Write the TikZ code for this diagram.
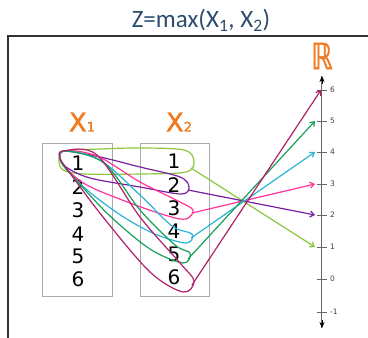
\documentclass[tikz,border=0pt]{standalone}
\usepackage{fontspec}
\usetikzlibrary{arrows.meta}
\newfontfamily\digitfont{DejaVu Sans}
\newfontfamily\lblfont{DejaVu Sans}[FakeBold=1.5]
\newfontfamily\titlefont{Carlito}
\definecolor{titleblue}{HTML}{2B4C6F}
\definecolor{lblorange}{HTML}{F07A22}
\definecolor{cLime}{HTML}{8CC63F}
\definecolor{cPurple}{HTML}{7A1FA2}
\definecolor{cPink}{HTML}{FF3399}
\definecolor{cCyan}{HTML}{29B4D8}
\definecolor{cGreen}{HTML}{16A05A}
\definecolor{cMag}{HTML}{B0206A}
\begin{document}
\begin{tikzpicture}[x=1pt,y=-1pt,
  setbox/.style={draw=black!33,line width=1pt},
  digit/.style={font=\digitfont\fontsize{20}{20}\selectfont,inner sep=0pt},
  loopline/.style={line width=1.2pt,smooth cycle,tension=0.55},
  mapline/.style={line width=1.2pt,-{Straight Barb[length=4pt,width=6pt]}},
  ticklbl/.style={font=\digitfont\fontsize{7.5}{8}\selectfont,text=black!75,anchor=west,inner sep=0pt},
  xlabel/.style={font=\lblfont\fontsize{26}{26}\selectfont,text=lblorange,inner sep=0pt}]
\useasboundingbox (0,0) rectangle (368,338);
% title
\node[font=\titlefont\fontsize{25}{25}\selectfont,text=titleblue] (title) at (201,20) {Z=max(X\textsubscript{1}, X\textsubscript{2})};
% frame
\draw[line width=1.5pt,black!80] (8,340) -- (8,36) -- (370,36);
% boxes
\draw[setbox] (43,143) rectangle (113,296);
\draw[setbox] (141,143) rectangle (210,296);
\node[xlabel] (lx1) at (82,122) {X{\fontsize{13}{13}\selectfont 1}};
\node[xlabel] (lx2) at (179,122) {X{\fontsize{13}{13}\selectfont 2}};
% digits
\foreach \i/\y in {1/163,2/187,3/210,4/234,5/256,6/279}
  \node[digit] (a\i) at (78,\y) {\i};
\foreach \i/\y in {1/161,2/185,3/208,4/231,5/254,6/277}
  \node[digit] (b\i) at (174,\y) {\i};
% axis
\coordinate (axtop) at (322,76);
\coordinate (axbot) at (322,328);
\draw[black!60,line width=1pt] (axtop) -- (axbot);
\draw[-{Stealth[length=6pt,width=5pt]},line width=0.4pt,black] (322,84) -- (axtop);
\draw[-{Stealth[length=6pt,width=5pt]},line width=0.4pt,black] (322,320) -- (axbot);
\foreach \v/\y in {6/90,5/121,4/152,3/184,2/215,1/247,0/279,-1/312}{
  \coordinate (t\v) at (322,\y);
  \draw[black!60,line width=0.9pt] (317,\y) -- (327,\y);
  \node[ticklbl] (l\v) at (330,\y) {\v};
}
\node[text=lblorange,font=\lblfont\fontsize{36}{36}\selectfont,xscale=0.75,inner sep=0pt] (Rlbl) at (322,56) {ℝ};
% loops
\draw[cLime,loopline] plot coordinates {(64,151) (100,149) (140,148) (184,150) (194,161) (186,172) (140,174) (85,174) (63,170) (59,159)};
\draw[cPurple,loopline] plot coordinates {(64,151) (100,157) (140,167) (180,177) (189,187) (181,194) (140,187) (90,178) (66,167) (60,158)};
\draw[cPink,loopline] plot coordinates {(64,151) (97,156) (140,182) (178,201) (193,210) (186,219) (168,216) (130,203) (85,184) (62,163)};
\draw[cCyan,loopline] plot coordinates {(64,151) (100,160) (140,195) (172,226) (192,234) (186,243) (155,234) (122,216) (86,189) (62,163)};
\draw[cGreen,loopline] plot coordinates {(64,151) (104,163) (140,210) (175,245) (190,253) (183,263) (150,249) (110,216) (77,181) (61,162)};
\draw[cMag,loopline] plot coordinates {(63,151) (97,155) (140,217) (180,263) (194,281) (183,292) (150,272) (103,217) (67,169) (60,158)};
% exits and ends
\coordinate (s1) at (191,168); \coordinate (e1) at (315,247);
\coordinate (s2) at (188,190); \coordinate (e2) at (315,215);
\coordinate (s3) at (192,213); \coordinate (e3) at (315,184);
\coordinate (s4) at (191,238); \coordinate (e4) at (315,152);
\coordinate (s5) at (188,259); \coordinate (e5) at (315,121);
\coordinate (s6) at (192,285); \coordinate (e6) at (321,90);
\draw[mapline,cLime] (s1) -- (e1);
\draw[mapline,cPurple] (s2) -- (e2);
\draw[mapline,cPink] (s3) -- (e3);
\draw[mapline,cCyan] (s4) -- (e4);
\draw[mapline,cGreen] (s5) -- (e5);
\draw[mapline,cMag] (s6) -- (e6);
\end{tikzpicture}
\end{document}
